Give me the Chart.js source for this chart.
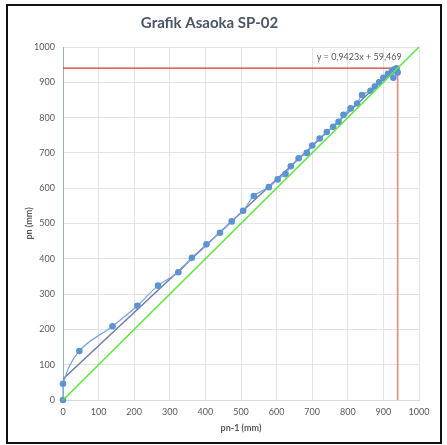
<!DOCTYPE html>
<html>
<head>
<meta charset="utf-8">
<script src="https://cdn.jsdelivr.net/npm/chart.js@4/dist/chart.umd.min.js"></script>
<style>
  html, body { margin: 0; padding: 0; background: #fff; }
  #wrap { width: 447px; height: 445px; position: relative; }
</style>
</head>
<body>
<div id="wrap"><canvas id="c" width="447" height="445"></canvas></div>
<script>
// Asaoka plot: settlement p(n-1) against p(n), in mm
const pnPrev = [0, 0, 46, 139, 209, 267, 324, 362, 403, 441, 474, 506, 536, 578, 603, 625, 640, 662, 685, 700, 721, 741, 759, 774, 788, 808, 826, 840, 864, 876, 888, 900, 913, 924, 931, 937, 940, 928];
const pn     = [0, 46, 139, 209, 267, 324, 362, 403, 441, 474, 506, 536, 578, 603, 625, 640, 662, 685, 700, 721, 741, 759, 774, 788, 808, 826, 840, 864, 876, 888, 900, 913, 924, 931, 937, 940, 928, 913];

// linear fit of the points
const trendSlope = 0.9423;
const trendIntercept = 59.469;
const trendLabel = 'y = 0,9423x + 59,469';
const trendXStart = 0;
const trendXEnd = 940;

// final settlement (mm)
const finalSettlement = 940;

// 45 degree line p(n) = p(n-1)
const diagStart = 0;
const diagEnd = 1000;

const axisMin = 0;
const axisMax = 1000;
const axisStep = 100;

const titleText = 'Grafik Asaoka SP-02';
const xTitle = 'pn-1 (mm)';
const yTitle = 'pn (mm)';

const FONT = "Lato, 'Open Sans', sans-serif";
const TEXT = '#595959';
const TITLE = '#4a5566';
const GRID = '#dfe3ea';

const points = pnPrev.map((x, i) => ({ x: x, y: pn[i] }));

const framePlugin = {
  id: 'frame',
  beforeDraw(chart) {
    const ctx = chart.ctx;
    ctx.save();
    ctx.fillStyle = '#ffffff';
    ctx.fillRect(0, 0, chart.width, chart.height);
    ctx.restore();
  },
  afterDraw(chart) {
    const ctx = chart.ctx;
    ctx.save();
    ctx.strokeStyle = '#111111';
    ctx.lineWidth = 2;
    ctx.strokeRect(7, 5, 434, 438);
    ctx.restore();
  }
};

const trendTextPlugin = {
  id: 'trendText',
  afterDatasetsDraw(chart) {
    const { ctx, scales } = chart;
    const px = scales.x.getPixelForValue(832);
    const py = scales.y.getPixelForValue(970);
    ctx.save();
    ctx.font = '9px ' + FONT;
    ctx.fillStyle = TEXT;
    ctx.textAlign = 'center';
    ctx.textBaseline = 'middle';
    ctx.fillText(trendLabel, px, py);
    ctx.restore();
  }
};

const plainTick = (v) => String(v);

new Chart(document.getElementById('c'), {
  type: 'scatter',
  data: {
    datasets: [
      {
        label: 'diagonal',
        data: [{ x: diagStart, y: diagStart }, { x: diagEnd, y: diagEnd }],
        showLine: true,
        borderColor: '#5fe83c',
        borderWidth: 1.6,
        pointRadius: 0,
        clip: false,
        order: 1
      },
      {
        label: 'pn',
        data: points,
        showLine: true,
        tension: 0.4,
        borderColor: '#7ba4d6',
        borderWidth: 1.2,
        pointRadius: 3.3,
        pointBackgroundColor: '#5b93d3',
        pointBorderColor: '#5b93d3',
        pointBorderWidth: 0,
        clip: false,
        order: 2
      },
      {
        label: 'trend',
        data: [
          { x: trendXStart, y: trendSlope * trendXStart + trendIntercept },
          { x: trendXEnd, y: trendSlope * trendXEnd + trendIntercept }
        ],
        showLine: true,
        borderColor: '#6c78ad',
        borderWidth: 1.4,
        pointRadius: 0,
        order: 3
      },
      {
        label: 'horizontal',
        data: [{ x: 0, y: finalSettlement }, { x: finalSettlement, y: finalSettlement }],
        showLine: true,
        borderColor: '#cf3a2c',
        borderWidth: 1.2,
        pointRadius: 0,
        order: 4
      },
      {
        label: 'vertical',
        data: [{ x: finalSettlement, y: 0 }, { x: finalSettlement, y: finalSettlement }],
        showLine: true,
        borderColor: '#e8877c',
        borderWidth: 1.6,
        pointRadius: 0,
        order: 4
      }
    ]
  },
  options: {
    responsive: false,
    animation: false,
    devicePixelRatio: 1,
    layout: { padding: { left: 0, right: 28, top: 0, bottom: 0 } },
    plugins: {
      legend: { display: false },
      tooltip: { enabled: false },
      title: {
        display: true,
        text: titleText,
        color: TITLE,
        font: { family: FONT, size: 15, weight: 'bold' },
        padding: { top: 14, bottom: 15 }
      }
    },
    scales: {
      x: {
        type: 'linear',
        min: axisMin,
        max: axisMax,
        afterFit(scale) { scale.height = 45; },
        ticks: { stepSize: axisStep, color: TEXT, font: { family: FONT, size: 9 }, padding: 7, maxRotation: 0, callback: plainTick },
        grid: { color: GRID, drawTicks: false, lineWidth: 1 },
        border: { color: '#d3d8e0', width: 1 },
        title: { display: true, text: xTitle, color: TEXT, font: { family: FONT, size: 9, weight: 'bold' }, padding: { top: 0, bottom: 12 } }
      },
      y: {
        type: 'linear',
        min: axisMin,
        max: axisMax,
        afterFit(scale) { scale.width = 63; },
        ticks: { stepSize: axisStep, color: TEXT, font: { family: FONT, size: 9 }, padding: 8, callback: plainTick },
        grid: { color: GRID, drawTicks: false, lineWidth: 1 },
        border: { color: '#a3aab6', width: 1 },
        title: { display: true, text: yTitle, color: TEXT, font: { family: FONT, size: 9, weight: 'bold' }, padding: { top: 24, bottom: 0 } }
      }
    }
  },
  plugins: [framePlugin, trendTextPlugin]
});
</script>
</body>
</html>
